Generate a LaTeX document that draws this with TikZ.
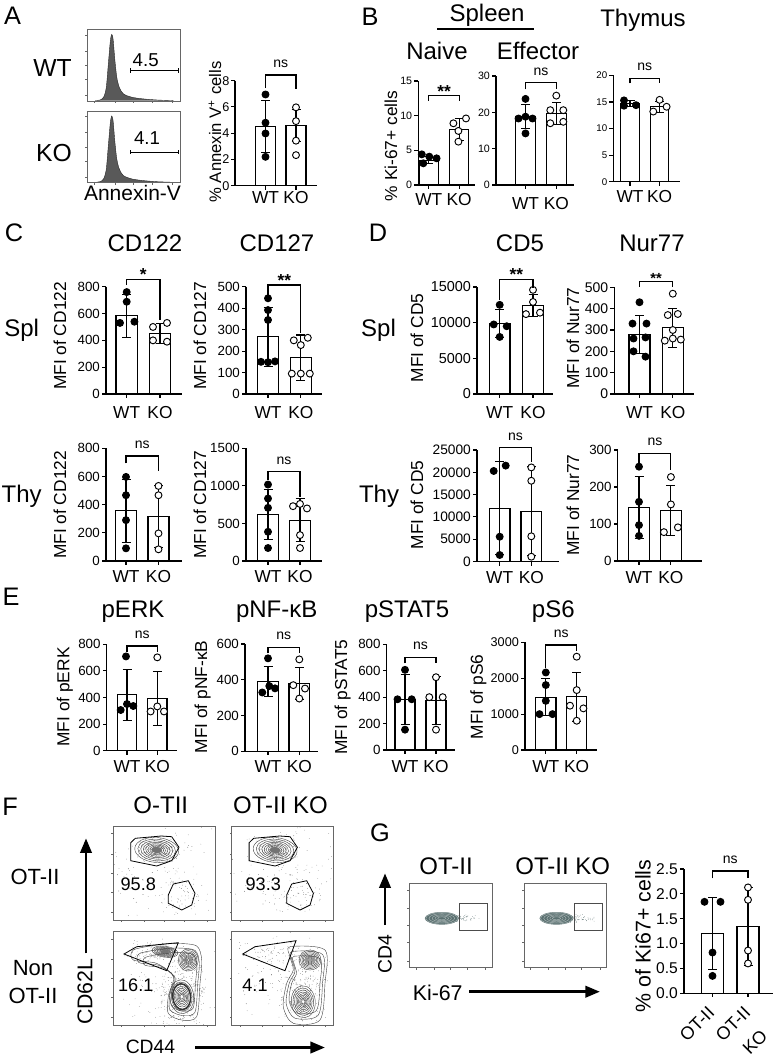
\documentclass[tikz,border=0pt]{standalone}
\usepackage{fontspec}
\setmainfont{Liberation Sans}
\usetikzlibrary{arrows.meta}

\definecolor{slate}{HTML}{3D5757}
\newcommand{\fsz}[1]{\fontsize{#1}{#1}\selectfont}

\tikzset{
  axisline/.style={line width=0.8pt},
  barbox/.style={line width=0.8pt, fill=white},
  wtdot/.style={circle, draw, line width=0.7pt, fill=black, inner sep=0pt, minimum size=5.2pt},
  kodot/.style={wtdot, fill=white},
  ticklbl/.style={left, inner sep=1.2pt, font=\fsz{10}},
  chart/.style n args={4}{shift={(#1,#2)}, y={(0pt,#3*0.75pt/#4)}},
  panel/.style={font=\fsz{19}},
  ttl/.style={font=\fsz{18}},
  grp/.style={font=\fsz{13}},
  ylbl/.style={font=\fsz{13}, rotate=90, inner sep=1pt},
  nslbl/.style={font=\fsz{10.5}, inner sep=0pt, anchor=base, yshift=5.5pt},
  stars/.style={font=\bfseries\fsz{13}, inner sep=0pt, anchor=base, yshift=-1pt},
  bracket/.style={line width=0.8pt},
  gateline/.style={line width=0.6pt},
  contline/.style={line width=0.3pt, draw=black!75},
  flowbox/.style={line width=0.4pt, draw=black!60},
  bigarrow/.style={line width=2.2pt, -{Triangle[width=8.5pt,length=11pt]}},
  fdot/.style={fill=black!75},
}

% axes of a bar chart: name, top, baseline length, ticks
\newcommand{\plotaxes}[4]{%
  \draw[axisline] (0,#2) -- (0,0) -- (#3,0);
  \foreach \v/\l [count=\k] in {#4}
    \draw[axisline] (0,\v) -- ++(-3pt,0pt) node[ticklbl] (#1\k) {\l};
}
% one bar: name, x, half width, mean, sd, dot style, points
\newcommand{\plotbar}[7]{%
  \draw[barbox] (#2-#3,0) rectangle (#2+#3,#4);
  \draw[axisline] (#2,0) -- ++(0pt,-3pt);
  \draw[axisline] (#2,#4-#5) -- (#2,#4+#5)
    (#2-4.5,#4+#5) -- (#2+4.5,#4+#5)
    (#2-4.5,#4-#5) -- (#2+4.5,#4-#5);
  \foreach \dx/\v [count=\k] in {#7}
    \node[#6] (#1\k) at (#2+\dx,\v) {};
}
% bracket: name, x1, x2, top, left end, right end, style, text
\newcommand{\sigbr}[8]{%
  \draw[bracket] (#2,#5) -- (#2,#4) -- (#3,#4) -- (#3,#6);
  \node[#7] (#1) at ({(#2+#3)/2},#4) {#8};
}
\newcommand{\popcontours}[5]{%
  \foreach \s in {1,0.86,0.73,0.61,0.5,0.4,0.31,0.22,0.14}
    \draw[contline, rotate around={#5:(#1,#2)}] (#1,#2) ellipse [x radius=#3*\s, y radius=#4*\s];
}
\newcommand{\flowscatter}[5]{%
  \foreach \i in {1,...,#5}
    \fill[fdot] ({#1+#3*(rand+rand)},{#2+#4*(rand+rand)}) circle (0.22pt);
}
\newcommand{\flowticks}[2]{%
  \foreach \f in {0.08,0.3,0.5,0.7,0.92} {
    \draw[flowbox] (0,#2*\f) -- ++(-2,0);
    \draw[flowbox] (#1*\f,#2) -- ++(0,2);
  }
}

\begin{document}
\begin{tikzpicture}[x=0.75pt, y=-0.75pt]
\useasboundingbox (0,0) rectangle (772,1057);
\pgfmathsetseed{11}

%LETTERS
\node[panel] (pa) at (12.5,16) {A};
\node[panel] (pb) at (370,16.5) {B};
\node[panel] (pc) at (14,233) {C};
\node[panel] (pd) at (378,233) {D};
\node[panel] (pe) at (11,597) {E};
\node[panel] (pf) at (10,807) {F};
\node[panel] (pg) at (380,833) {G};

%A HISTOGRAMS
\node[font=\fsz{18.5}] (awt) at (52.5,68.3) {WT};
\node[font=\fsz{18.5}] (ako) at (54,153.3) {KO};
\foreach \hy in {29.3,111} {
  \begin{scope}[shift={(87.3,\hy)}]
    \fill[black!65] plot[smooth] coordinates {(8,71.3)(13,70.6)(16.5,67.5)(19,58)(21,35)(23,12)(24.4,5)(25.8,10)(27.5,30)(29.5,48)(32,58)(36,64.5)(44,67.8)(55,69.5)(70,70.7)(86,71.3)} -- cycle;
    \draw[black!85, line width=0.3pt] plot[smooth] coordinates {(8,71.3)(13,70.6)(16.5,67.5)(19,58)(21,35)(23,12)(24.4,5)(25.8,10)(27.5,30)(29.5,48)(32,58)(36,64.5)(44,67.8)(55,69.5)(70,70.7)(86,71.3)};
    \draw[gateline] (42.7,41.2) -- (90.7,41.2) (42.7,39) -- (42.7,43.4) (90.7,39) -- (90.7,43.4);
    \draw[flowbox] (0,0) rectangle (92.7,71.7);
    \flowticks{92.7}{71.7}
  \end{scope}
}
\node[font=\fsz{14}] (g45) at (145.7,60) {4.5};
\node[font=\fsz{14}] (g41) at (147,138.3) {4.1};
\node[font=\fsz{15.75}] (ann) at (132.5,193) {Annexin-V};

%A BARS
\begin{scope}[chart={235}{185.7}{105}{8}, ticklbl/.append style={font=\fsz{9.5}, inner sep=0.8pt}]
  \plotaxes{at}{8}{82}{0/0,2/2,4/4,6/6,8/8}
  \plotbar{aw}{30.5}{10}{4.5}{1.97}{wtdot}{0/6.95,0/4.8,0/3.98,0/2.2}
  \plotbar{ak}{61}{10}{4.6}{1.2}{kodot}{0/5.97,0/4.92,0/3.43,0/2.33}
\end{scope}
\node[ylbl, font=\fsz{12.5}] (ay) at (215,132) {\% Annexin V\textsuperscript{+} cells};
\sigbr{ans}{265.5}{296}{75}{88}{89}{nslbl}{ns}
\node[grp] (awl) at (265.5,198) {WT};
\node[grp] (akl) at (296,198) {KO};

%B
\node[ttl] (spl) at (487,15) {Spleen};
\draw[line width=1.1pt] (437,29) -- (534,29);
\node[ttl] (thy) at (643,20) {Thymus};
\node[ttl] (nai) at (437,51.3) {Naive};
\node[ttl] (eff) at (538,51.3) {Effector};
\node[ylbl] (by) at (391,146) {\% Ki-67+ cells};
\begin{scope}[chart={418.3}{185}{104}{15}, ticklbl/.append style={font=\fsz{8}}]
  \plotaxes{b1t}{15}{57}{0/0,5/5,10/10,15/15}
  \plotbar{b1w}{10.5}{9.5}{3.6}{0.45}{wtdot}{-7/4.42,0.5/4.09,7.8/3.85,-5.5/3.13}
  \plotbar{b1k}{40.9}{9.5}{8.0}{1.6}{kodot}{-5.8/8.9,6.8/9.6,-0.8/7.8,-0.8/6.25}
\end{scope}
\begin{scope}[chart={496}{185}{109}{30}, ticklbl/.append style={font=\fsz{8}}]
  \plotaxes{b2t}{30}{78}{0/0,10/10,20/20,30/30}
  \plotbar{b2w}{29.5}{9.8}{18.8}{3.3}{wtdot}{0/23.7,-7/18.3,0/18.8,7/18.3,0/14.2}
  \plotbar{b2k}{60.3}{9.8}{19.7}{3.0}{kodot}{0/24.6,-6/20.6,7/20.6,-6/17.0,7/17.4}
\end{scope}
\begin{scope}[chart={613.3}{181.7}{106.3}{20}, ticklbl/.append style={font=\fsz{7.3}}]
  \plotaxes{b3t}{20}{66.7}{0/0,5/5,10/10,15/15,20/20}
  \plotbar{b3w}{16.7}{9.3}{14.7}{0.55}{wtdot}{-6/15.3,-6/14.3,6/14.4}
  \plotbar{b3k}{46.3}{9.3}{14.1}{1.0}{kodot}{0/15.4,-6.3/13.2,7/14.1}
\end{scope}
\sigbr{bns1}{428.8}{459.2}{95.7}{100.5}{100.5}{stars}{**}
\sigbr{bns2}{525.5}{556.3}{82.7}{89.3}{89.3}{nslbl}{ns}
\sigbr{bns3}{630}{659.6}{78.3}{83.3}{83.3}{nslbl}{ns}
\node[grp] (b1wl) at (428.8,200) {WT};
\node[grp] (b1kl) at (459.2,200) {KO};
\node[grp] (b2wl) at (525.5,204) {WT};
\node[grp] (b2kl) at (556.3,204) {KO};
\node[grp] (b3wl) at (630,197) {WT};
\node[grp] (b3kl) at (659.6,197) {KO};

%C
\node[ttl] (c122) at (145,243) {CD122};
\node[ttl] (c127) at (277,243) {CD127};
\node[ttl] (cspl) at (21.7,330) {Spl};
\node[ttl] (cthy) at (21.7,496.7) {Thy};
\begin{scope}[chart={106}{394}{107.3}{800}]
  \plotaxes{c1t}{800}{75.7}{0/0,200/200,400/400,600/600,800/800}
  \plotbar{c1w}{20.7}{10.7}{584}{161}{wtdot}{0/760,0/688,-6.7/530,7.7/539}
  \plotbar{c1k}{54}{10.7}{452}{72}{kodot}{-7/500,7/530,-7/400,7/390}
\end{scope}
\begin{scope}[chart={246}{394}{107.3}{500}]
  \plotaxes{c2t}{500}{75.7}{0/0,100/100,200/200,300/300,400/400,500/500}
  \plotbar{c2w}{22}{10.7}{267}{137}{wtdot}{0/446,0/391,0/345,-7/150,0/148,7/152}
  \plotbar{c2k}{54.8}{10.7}{168}{107}{kodot}{-7/250,7/262,0/228,-9/95,0/95,9/95}
\end{scope}
\begin{scope}[chart={106}{561}{112.7}{800}]
  \plotaxes{c3t}{800}{75.7}{0/0,200/200,400/400,600/600,800/800}
  \plotbar{c3w}{20}{10.5}{356}{222}{wtdot}{0/597,0/467,0/290,0/90}
  \plotbar{c3k}{52.5}{10.5}{314}{220}{kodot}{0/533,0/467,0/196,0/83}
\end{scope}
\begin{scope}[chart={246}{561}{112.7}{1500}]
  \plotaxes{c4t}{1500}{75.7}{0/0,500/500,1000/1000,1500/1500}
  \plotbar{c4w}{22}{10.5}{620}{336}{wtdot}{0/1018,0/832,0/708,0/389,0/173}
  \plotbar{c4k}{54}{10.5}{544}{288}{kodot}{-7/730,0/760,7/700,0/345,0/173}
\end{scope}
\node[ylbl] (c1y) at (60,336) {MFI of CD122};
\node[ylbl] (c2y) at (200,336) {MFI of CD127};
\node[ylbl] (c3y) at (60,505) {MFI of CD122};
\node[ylbl] (c4y) at (200,505) {MFI of CD127};
\sigbr{cns1}{126.7}{160}{279.3}{285}{320}{stars}{*}
\sigbr{cns2}{268}{300.8}{285}{295}{332.7}{stars}{**}
\sigbr{cns3}{126}{158.5}{456}{463.3}{471}{nslbl}{ns}
\sigbr{cns4}{268}{300}{471.7}{480}{496.7}{nslbl}{ns}
\node[grp] (c1wl) at (126.7,412.7) {WT};
\node[grp] (c1kl) at (160,412.7) {KO};
\node[grp] (c2wl) at (268,412.7) {WT};
\node[grp] (c2kl) at (300.8,412.7) {KO};
\node[grp] (c3wl) at (126,576.7) {WT};
\node[grp] (c3kl) at (158.5,576.7) {KO};
\node[grp] (c4wl) at (268,576.7) {WT};
\node[grp] (c4kl) at (300,576.7) {KO};

%D
\node[ttl] (dcd5) at (520,243) {CD5};
\node[ttl] (dnur) at (652,243) {Nur77};
\node[ttl] (dspl) at (378.5,330) {Spl};
\node[ttl] (dthy) at (379,496.7) {Thy};
\begin{scope}[chart={477}{394}{107}{15}, ticklbl/.append style={font=\fsz{10.8}}]
  \plotaxes{d1t}{15}{76}{0/0,5/5000,10/10000,15/15000}
  \plotbar{d1w}{22.7}{10.3}{9.9}{1.95}{wtdot}{0/12.5,-6/9.75,7/9.5,0/8.0}
  \plotbar{d1k}{56}{10.3}{12.45}{1.55}{kodot}{0/14.6,0/12.9,-7/11.2,7/11.4}
\end{scope}
\begin{scope}[chart={614.3}{394}{106.7}{500}, ticklbl/.append style={font=\fsz{10.5}}]
  \plotaxes{d2t}{500}{79.7}{0/0,100/100,200/200,300/300,400/400,500/500}
  \plotbar{d2w}{25.2}{10.5}{277}{89}{wtdot}{0/430,-7/330,7/330,-6/260,6/265,-6/200,6/175}
  \plotbar{d2k}{58.5}{10.5}{311}{91}{kodot}{0/470,-5/370,5/375,-8/250,0/260,8/255,0/300}
\end{scope}
\begin{scope}[chart={477}{561.5}{111.5}{25}, ticklbl/.append style={font=\fsz{10.3}}]
  \plotaxes{d3t}{25}{82}{0/0,5/5000,10/10000,15/15000,20/20000,25/25000}
  \plotbar{d3w}{22.7}{10.3}{11.93}{10.4}{wtdot}{-6/20.3,6/21.5,0/5.56,0/1.46}
  \plotbar{d3k}{54.3}{10.3}{11.3}{9.9}{kodot}{0/21.1,0/18.1,0/5.65,0/1.08}
\end{scope}
\begin{scope}[chart={617.7}{561}{111}{300}, ticklbl/.append style={font=\fsz{10}}]
  \plotaxes{d4t}{300}{84}{0/0,100/100,200/200,300/300}
  \plotbar{d4w}{21.3}{10.3}{144}{84}{wtdot}{0/255,0/160,0/97,0/68}
  \plotbar{d4k}{53.2}{10.3}{137}{68}{kodot}{0/227,0/153,-7/78,7/91}
\end{scope}
\node[ylbl] (d1y) at (417,338) {MFI of CD5};
\node[ylbl] (d2y) at (573,338) {MFI of Nur77};
\node[ylbl] (d3y) at (417,505) {MFI of CD5};
\node[ylbl] (d4y) at (573,505) {MFI of Nur77};
\sigbr{dns1}{499.7}{533}{279.3}{300}{288.3}{stars}{**}
\sigbr{dns2}{639.5}{672.8}{281.7}{286.7}{286.7}{stars, font=\bfseries\fsz{11}}{**}
\sigbr{dns3}{499.7}{531.3}{447.7}{461}{461.7}{nslbl}{ns}
\sigbr{dns4}{639}{670.9}{453.3}{463}{470}{nslbl}{ns}
\node[grp] (d1wl) at (499.7,412.7) {WT};
\node[grp] (d1kl) at (533,412.7) {KO};
\node[grp] (d2wl) at (639.5,412.7) {WT};
\node[grp] (d2kl) at (672.8,412.7) {KO};
\node[grp] (d3wl) at (499.7,578) {WT};
\node[grp] (d3kl) at (531.3,578) {KO};
\node[grp] (d4wl) at (639,578) {WT};
\node[grp] (d4kl) at (670.9,578) {KO};

%E
\node[ttl] (eerk) at (133,612) {pERK};
\node[ttl] (enfk) at (276.7,612) {pNF-κB};
\node[ttl] (esta) at (407,612) {pSTAT5};
\node[ttl] (es6) at (553.3,612) {pS6};
\begin{scope}[chart={106.7}{750.7}{106.4}{800}]
  \plotaxes{e1t}{800}{70.3}{0/0,200/200,400/400,600/600,800/800}
  \plotbar{e1w}{20.3}{9.7}{420}{190}{wtdot}{-1/709,-6.3/306,0/351,6.3/336}
  \plotbar{e1k}{50.6}{9.7}{394}{203}{kodot}{0/702,-6.7/295,0/333,6.7/295}
\end{scope}
\begin{scope}[chart={245}{751.3}{107.3}{600}]
  \plotaxes{e2t}{600}{73}{0/0,200/200,400/400,600/600}
  \plotbar{e2w}{23}{10.3}{389}{84}{wtdot}{0/520,-5.7/329,1.3/365,7/352}
  \plotbar{e2k}{54.3}{10.3}{380}{90}{kodot}{0/514,-6/370,5.7/351,0/295}
\end{scope}
\begin{scope}[chart={386.7}{750}{105.7}{800}]
  \plotaxes{e3t}{800}{68}{0/0,200/200,400/400,600/600,800/800}
  \plotbar{e3w}{18.3}{10}{382}{186}{wtdot}{0/607,-7.5/384,6.7/384,0/154}
  \plotbar{e3k}{49.3}{10}{376}{180}{kodot}{0/551,-6.7/400,6.7/400,0/154}
\end{scope}
\begin{scope}[chart={525}{750}{107.7}{3000}, ticklbl/.append style={font=\fsz{9.5}}]
  \plotaxes{e4t}{3000}{72}{0/0,1000/1000,2000/2000,3000/3000}
  \plotbar{e4w}{20.8}{10.2}{1470}{520}{wtdot}{0/2160,0/1810,0/1370,-6.3/1000,6.7/1000}
  \plotbar{e4k}{51.7}{10.2}{1485}{685}{kodot}{0/2600,0/1670,-6.7/1235,6.7/1160,0/815}
\end{scope}
\node[ylbl] (e1y) at (65,697) {MFI of pERK};
\node[ylbl] (e2y) at (202.7,697) {MFI of pNF-κB};
\node[ylbl] (e3y) at (342.7,697) {MFI of pSTAT5};
\node[ylbl] (e4y) at (478.3,697) {MFI of pS6};
\sigbr{ens1}{127}{157.3}{646}{651.7}{651.7}{nslbl}{ns}
\sigbr{ens2}{268}{299.3}{647.3}{653.3}{653.3}{nslbl}{ns}
\sigbr{ens3}{405}{436}{657.3}{663.3}{663.3}{nslbl}{ns}
\sigbr{ens4}{545.8}{576.7}{645}{668.3}{650.7}{nslbl}{ns}
\node[grp] (e1wl) at (127,766.7) {WT};
\node[grp] (e1kl) at (157.3,766.7) {KO};
\node[grp] (e2wl) at (268,766.7) {WT};
\node[grp] (e2kl) at (299.3,766.7) {KO};
\node[grp] (e3wl) at (405,766.7) {WT};
\node[grp] (e3kl) at (436,766.7) {KO};
\node[grp] (e4wl) at (545.8,766.7) {WT};
\node[grp] (e4kl) at (576.7,766.7) {KO};

%F
\node[ttl] (fot) at (160.8,805.3) {O-TII};
\node[ttl] (fko) at (280.5,805.3) {OT-II KO};
\node[font=\fsz{16.5}] (fsot) at (35,876.7) {OT-II};
\node[font=\fontsize{16.5}{21}\selectfont, align=center] (fnon) at (33,982.5) {Non\\OT-II};
\foreach \fx in {113.3,231.7} {
  \begin{scope}[shift={(\fx,826)}]
    \begin{scope}
      \clip (0,0) rectangle (101.7,94);
      \flowscatter{44}{24}{11}{6.5}{220}
      \flowscatter{50}{47}{30}{28}{130}
      \flowscatter{72}{70}{12}{10}{40}
    \end{scope}
    \popcontours{43.4}{24}{22}{12.5}{-5}
    \fill[black!55, rotate around={-5:(43.4,24)}] (43.4,24) ellipse [x radius=5.5, y radius=3];
    \draw[gateline] (17.4,16.7) -- (22,12.3) -- (48,10) -- (58.4,10.7) -- (65.7,21.3) -- (58.4,34.7) -- (43.4,40) -- (17.4,34.7) -- cycle;
    \draw[gateline] (55,69) -- (60,58) -- (75,54.7) -- (81.7,67.3) -- (78.4,79) -- (68.4,84) -- (55,77.3) -- cycle;
    \draw[flowbox] (0,0) rectangle (101.7,94);
    \flowticks{101.7}{94}
  \end{scope}
}
%F LOWER LEFT
\begin{scope}[shift={(113.3,931.7)}]
  \begin{scope}
    \clip (0,0) rectangle (101.7,93.3);
    \flowscatter{68}{60}{14}{20}{260}
    \flowscatter{40}{20}{16}{6}{100}
    \flowscatter{50}{47}{30}{28}{120}
  \end{scope}
  \foreach \s in {1,0.88,0.76}
    \draw[contline, scale around={\s:(68,50)}] plot[smooth cycle] coordinates {(20,18.3)(43.4,13.3)(63.4,11.7)(83.4,14.3)(88.4,28.3)(86.7,51.7)(83.4,85)(68.4,88.3)(55,81.7)(55,65)(60,45)(43.4,31.7)(20,28.3)};
  \popcontours{51.7}{20}{13}{5.5}{-8}
  \fill[black!55] (51.7,20) ellipse [x radius=3.5, y radius=2];
  \popcontours{75}{28.3}{10}{11}{0}
  \popcontours{68.4}{65}{12}{17}{5}
  \draw[line width=1.1pt, black!80, rotate around={5:(68.4,65)}] (68.4,65) ellipse [x radius=9, y radius=13];
  \draw[gateline] (10.7,22.3) -- (23.4,15) -- (65,11) -- (53.4,39) -- cycle;
  \draw[flowbox] (0,0) rectangle (101.7,93.3);
  \flowticks{101.7}{93.3}
\end{scope}
%F LOWER RIGHT
\begin{scope}[shift={(231.7,931.7)}]
  \begin{scope}
    \clip (0,0) rectangle (101.7,93.3);
    \flowscatter{72}{55}{12}{22}{240}
    \flowscatter{40}{20}{18}{7}{60}
    \flowscatter{50}{47}{30}{28}{120}
  \end{scope}
  \foreach \s in {1,0.87,0.74}
    \draw[contline, scale around={\s:(74,52)}] plot[smooth cycle] coordinates {(58.3,15)(93.3,18.3)(93.3,51.6)(88.3,88.3)(61.6,91.6)(51.6,75)(55,51.6)(61.6,38.3)(58.3,25)};
  \popcontours{78.3}{28.3}{11}{10}{0}
  \popcontours{71.6}{70}{12}{16}{5}
  \draw[gateline] (11,22.3) -- (23.3,15) -- (64.3,9) -- (53.3,39) -- cycle;
  \draw[flowbox] (0,0) rectangle (101.7,93.3);
  \flowticks{101.7}{93.3}
\end{scope}
\node[font=\fsz{13.6}] (n958) at (138.3,884.5) {95.8};
\node[font=\fsz{13.6}] (n933) at (263.3,884.5) {93.3};
\node[font=\fsz{13.6}] (n161) at (135.8,985) {16.1};
\node[font=\fsz{13.6}] (n41) at (255,985) {4.1};
\coordinate (fy0) at (86,953.3);
\coordinate (fy1) at (86,838.3);
\coordinate (fx0) at (195,1047.5);
\coordinate (fx1) at (325,1047.5);
\draw[bigarrow] (fy0) -- (fy1);
\draw[bigarrow] (fx0) -- (fx1);
\node[font=\fsz{16}, rotate=90] (cd62) at (85,991.7) {CD62L};
\node[font=\fsz{14.5}, inner sep=0.5pt] (cd44) at (150.5,1046.5) {CD44};

%G
\node[ttl] (got) at (446,866.7) {OT-II};
\node[ttl] (gko) at (562.8,866) {OT-II KO};
\foreach \gx in {409.3,524} {
  \begin{scope}[shift={(\gx,883.3)}, fdot/.style={fill=slate}]
    \begin{scope}
      \clip (0,0) rectangle (82.5,84.4);
      \flowscatter{36}{35}{9}{2.5}{140}
      \flowscatter{56}{35}{9}{2.2}{50}
    \end{scope}
    \fill[slate!85] (32.5,35) ellipse [x radius=17, y radius=6.3];
    \foreach \s in {1,0.8,0.6,0.42,0.26}
      \draw[white!55!slate, line width=0.35pt] (32.5,35) ellipse [x radius=16*\s, y radius=5.8*\s];
    \draw[gateline, black!70] (50,20) rectangle (78,46.7);
    \draw[flowbox] (0,0) rectangle (82.5,84.4);
    \flowticks{82.5}{84.4}
  \end{scope}
}
\coordinate (gy0) at (385,925);
\coordinate (gy1) at (385,873.3);
\coordinate (gx0) at (469.3,991.7);
\coordinate (gx1) at (600,991.7);
\draw[bigarrow] (gy0) -- (gy1);
\draw[bigarrow] (gx0) -- (gx1);
\node[font=\fsz{14.5}, rotate=90] (cd4) at (385,954) {CD4};
\node[font=\fsz{16}] (ki67) at (437.7,992.5) {Ki-67};

%G BARS
\begin{scope}[chart={684}{993.3}{124.3}{2.5}, ticklbl/.append style={font=\fsz{11.7}}]
  \plotaxes{gt}{2.5}{89}{0/0.0,0.5/0.5,1/1.0,1.5/1.5,2/2.0,2.5/2.5}
  \plotbar{gw}{28.5}{11}{1.20}{0.73}{wtdot}{-8/1.84,8/1.84,0/0.82,0/0.35}
  \plotbar{gk}{64}{11}{1.34}{0.78}{kodot}{0/2.13,0/1.88,0/0.86,0/0.60}
\end{scope}
\node[ylbl, font=\fsz{16}] (gyl) at (643,936) {\% of Ki67+ cells};
\sigbr{gns}{712.5}{748}{871}{878.3}{878.3}{nslbl}{ns}
\node[font=\fsz{13.5}, rotate=45, inner sep=0pt] (gxw) at (697,1024) {OT-II};
\node[font=\fsz{13.5}, rotate=45, inner sep=0pt] (gxk) at (733,1024) {OT-II};
\node[font=\fsz{13.5}, rotate=45, inner sep=0pt] (gxk2) at (755,1042) {KO};

\end{tikzpicture}
\end{document}
